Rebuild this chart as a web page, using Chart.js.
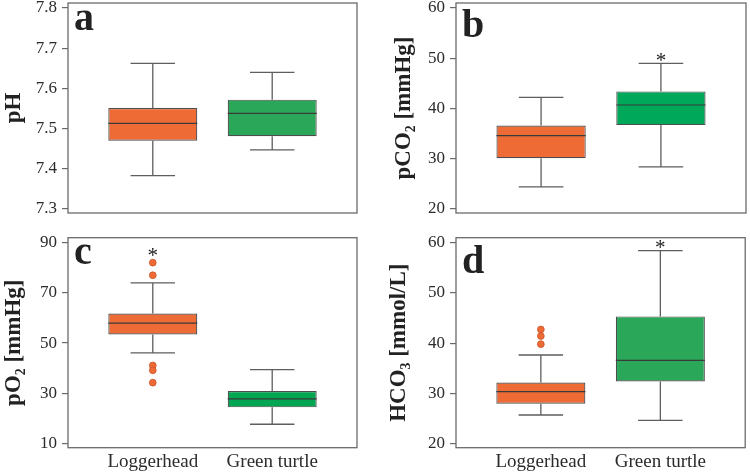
<!DOCTYPE html>
<html><head><meta charset="utf-8">
<script src="https://cdn.jsdelivr.net/npm/chart.js@4"></script>
<style>
html,body{margin:0;padding:0;background:#fff;}
#wrap{position:relative;width:750px;height:476px;overflow:hidden;background:#fff;}
canvas{position:absolute;}
</style></head><body>
<div id="wrap">
<canvas id="ca" width="375" height="225" style="left:0;top:0"></canvas>
<canvas id="cb" width="375" height="225" style="left:375px;top:0"></canvas>
<canvas id="cc" width="375" height="251" style="left:0;top:225px"></canvas>
<canvas id="cd" width="375" height="251" style="left:375px;top:225px"></canvas>
</div>
<script>
// ---- data ----
const categories = ['Loggerhead', 'Green turtle'];
const catX = [0, 1];

// (a) pH
const pHLow  = [7.383, 7.447];
const pHQ1   = [7.470, 7.481];
const pHMed  = [7.513, 7.538];
const pHQ3   = [7.551, 7.572];
const pHHigh = [7.662, 7.640];
const pHTicks = [7.3, 7.4, 7.5, 7.6, 7.7, 7.8];
const pHTickLabels = ['7.3', '7.4', '7.5', '7.6', '7.7', '7.8'];
const pHRange = [7.290, 7.8124];

// (b) pCO2
const pCO2Low  = [24.4, 28.4];
const pCO2Q1   = [30.1, 36.7];
const pCO2Med  = [34.6, 40.7];
const pCO2Q3   = [36.6, 43.4];
const pCO2High = [42.2, 49.0];
const pCO2Star = [null, 50.3];
const pCO2Ticks = [20, 30, 40, 50, 60];
const pCO2TickLabels = ['20', '30', '40', '50', '60'];
const pCO2Range = [19.2, 61.0];

// (c) pO2
const pO2Low  = [46.1, 17.8];
const pO2Q1   = [53.4, 24.5];
const pO2Med  = [57.9, 27.9];
const pO2Q3   = [61.7, 31.0];
const pO2High = [73.9, 39.5];
const pO2OutLoggerhead = [81.9, 76.9, 41.1, 39.2, 34.3];
const pO2OutGreen = [];
const pO2Star = [86.3, null];
const pO2Ticks = [10, 30, 50, 70, 90];
const pO2TickLabels = ['10', '30', '50', '70', '90'];
const pO2Range = [8.5, 91.8];

// (d) HCO3
const hco3Low  = [25.75, 24.7];
const hco3Q1   = [28.0, 32.4];
const hco3Med  = [30.4, 36.6];
const hco3Q3   = [32.2, 45.3];
const hco3High = [37.65, 58.35];
const hco3OutLoggerhead = [42.7, 41.4, 39.8];
const hco3OutGreen = [];
const hco3Star = [null, 59.66];
const hco3Ticks = [20, 30, 40, 50, 60];
const hco3TickLabels = ['20', '30', '40', '50', '60'];
const hco3Range = [19.27, 60.9];

// ---- drawing ----
const FONT = "'Liberation Serif','Times New Roman',serif";
const ORANGE = '#EF6B36';

function makePanel(id, p, L) {
  const datasets = [{
    type: 'bar',
    data: catX.map((x, i) => ({x: x, y: [p.q1[i], p.q3[i]]})),
    backgroundColor: p.colors,
    borderColor: '#4d4d4d',
    borderWidth: 1.2,
    borderSkipped: false,
    categoryPercentage: 1,
    barPercentage: 0.745,
    order: 2
  }];
  if (p.outliers) {
    const pts = [];
    p.outliers.forEach((arr, ci) => arr.forEach(v => pts.push({x: catX[ci], y: v})));
    datasets.push({
      type: 'scatter', data: pts,
      pointRadius: 3.4, pointBackgroundColor: ORANGE, pointBorderColor: '#c9552b',
      pointBorderWidth: 0.8, order: 1
    });
  }
  const parts = {
    id: 'boxparts',
    beforeDatasetsDraw(chart) {
      const ctx = chart.ctx, ys = chart.scales.y, bars = chart.getDatasetMeta(0).data;
      ctx.save();
      ctx.strokeStyle = '#5e5e5e'; ctx.lineWidth = 1.3;
      bars.forEach((b, i) => {
        const x = b.x, hw = b.width / 4;
        const yl = ys.getPixelForValue(p.low[i]), yh = ys.getPixelForValue(p.high[i]);
        const y1 = ys.getPixelForValue(p.q1[i]), y3 = ys.getPixelForValue(p.q3[i]);
        ctx.beginPath();
        ctx.moveTo(x, yl); ctx.lineTo(x, y1);
        ctx.moveTo(x, y3); ctx.lineTo(x, yh);
        ctx.moveTo(x - hw, yl); ctx.lineTo(x + hw, yl);
        ctx.moveTo(x - hw, yh); ctx.lineTo(x + hw, yh);
        ctx.stroke();
      });
      ctx.restore();
    },
    afterDatasetsDraw(chart) {
      const ctx = chart.ctx, ys = chart.scales.y, bars = chart.getDatasetMeta(0).data;
      const a = chart.chartArea;
      ctx.save();
      ctx.strokeStyle = '#3a3a3a'; ctx.lineWidth = 1.2;
      bars.forEach((b, i) => {
        const ym = ys.getPixelForValue(p.med[i]);
        ctx.beginPath();
        ctx.moveTo(b.x - b.width / 2, ym); ctx.lineTo(b.x + b.width / 2, ym);
        ctx.stroke();
      });
      // frame
      ctx.strokeStyle = '#6a6a6a'; ctx.lineWidth = 1.3;
      ctx.strokeRect(a.left, a.top, a.right - a.left, a.bottom - a.top);
      // asterisks
      if (p.star) {
        ctx.fillStyle = '#222';
        ctx.font = '21px ' + FONT;
        ctx.textAlign = 'center'; ctx.textBaseline = 'alphabetic';
        p.star.forEach((v, i) => {
          if (v === null) return;
          ctx.fillText('*', bars[i].x, ys.getPixelForValue(v) + 10);
        });
      }
      // panel letter
      ctx.fillStyle = '#222';
      ctx.font = 'bold 40px ' + FONT;
      ctx.textAlign = 'left'; ctx.textBaseline = 'alphabetic';
      ctx.fillText(p.letter, a.left + 6, a.top + L.letterDy);
      ctx.restore();
    }
  };
  return new Chart(document.getElementById(id), {
    type: 'bar',
    data: {datasets: datasets},
    options: {
      responsive: false, animation: false, devicePixelRatio: 1,
      layout: {padding: {left: 0, right: L.w - L.right, top: L.top, bottom: 0}},
      plugins: {legend: {display: false}, tooltip: {enabled: false}},
      scales: {
        x: {
          type: 'linear', min: -0.71, max: 1.71, offset: false,
          afterBuildTicks: ax => { ax.ticks = catX.map(v => ({value: v})); },
          afterFit: ax => { ax.height = L.h - L.bottom; ax.paddingLeft = 0; ax.paddingRight = 0; ax.paddingTop = 0; ax.paddingBottom = 0; },
          grid: {display: false, drawTicks: false},
          border: {display: false},
          ticks: {display: p.showX, padding: 3, color: '#2b2b2b', maxRotation: 0, autoSkip: false,
                  font: {family: FONT, size: 19}, callback: (v, i) => categories[i]}
        },
        y: {
          type: 'linear', min: p.range[0], max: p.range[1],
          afterBuildTicks: ax => { ax.ticks = p.ticks.map(v => ({value: v})); },
          afterFit: ax => { ax.width = L.left; ax.paddingTop = 0; ax.paddingBottom = 0; ax.paddingLeft = 0; ax.paddingRight = 0; },
          grid: {display: true, drawOnChartArea: false, drawTicks: true, tickLength: 6, color: '#6a6a6a', lineWidth: 1.2},
          border: {display: false},
          ticks: {padding: 5, color: '#2b2b2b', font: {family: FONT, size: 17}, callback: (v, i) => p.tickLabels[i]},
          title: {display: true, text: p.title, color: '#222',
                  font: {family: FONT, size: 23, weight: 'bold'}, padding: {top: L.titlePad, bottom: 0}}
        }
      }
    },
    plugins: [parts]
  });
}

makePanel('ca', {
  low: pHLow, q1: pHQ1, med: pHMed, q3: pHQ3, high: pHHigh,
  ticks: pHTicks, tickLabels: pHTickLabels, range: pHRange,
  colors: [ORANGE, '#2AA758'], title: 'pH', letter: 'a', showX: false
}, {w: 375, h: 225, left: 68, right: 357, top: 3, bottom: 213, titlePad: 0, letterDy: 27});

makePanel('cb', {
  low: pCO2Low, q1: pCO2Q1, med: pCO2Med, q3: pCO2Q3, high: pCO2High, star: pCO2Star,
  ticks: pCO2Ticks, tickLabels: pCO2TickLabels, range: pCO2Range,
  colors: [ORANGE, '#00A85A'], title: 'pCO₂ [mmHg]', letter: 'b', showX: false
}, {w: 375, h: 225, left: 81, right: 371, top: 3, bottom: 213, titlePad: 15, letterDy: 34});

makePanel('cc', {
  low: pO2Low, q1: pO2Q1, med: pO2Med, q3: pO2Q3, high: pO2High, star: pO2Star,
  outliers: [pO2OutLoggerhead, pO2OutGreen],
  ticks: pO2Ticks, tickLabels: pO2TickLabels, range: pO2Range,
  colors: [ORANGE, '#00A651'], title: 'pO₂ [mmHg]', letter: 'c', showX: true
}, {w: 375, h: 251, left: 68, right: 357, top: 12.7, bottom: 222.7, titlePad: 0, letterDy: 26.5});

makePanel('cd', {
  low: hco3Low, q1: hco3Q1, med: hco3Med, q3: hco3Q3, high: hco3High, star: hco3Star,
  outliers: [hco3OutLoggerhead, hco3OutGreen],
  ticks: hco3Ticks, tickLabels: hco3TickLabels, range: hco3Range,
  colors: [ORANGE, '#2AA758'], title: 'HCO₃ [mmol/L]', letter: 'd', showX: true
}, {w: 375, h: 251, left: 81, right: 371, top: 12.7, bottom: 222.7, titlePad: 10, letterDy: 35});
</script>
</body></html>
